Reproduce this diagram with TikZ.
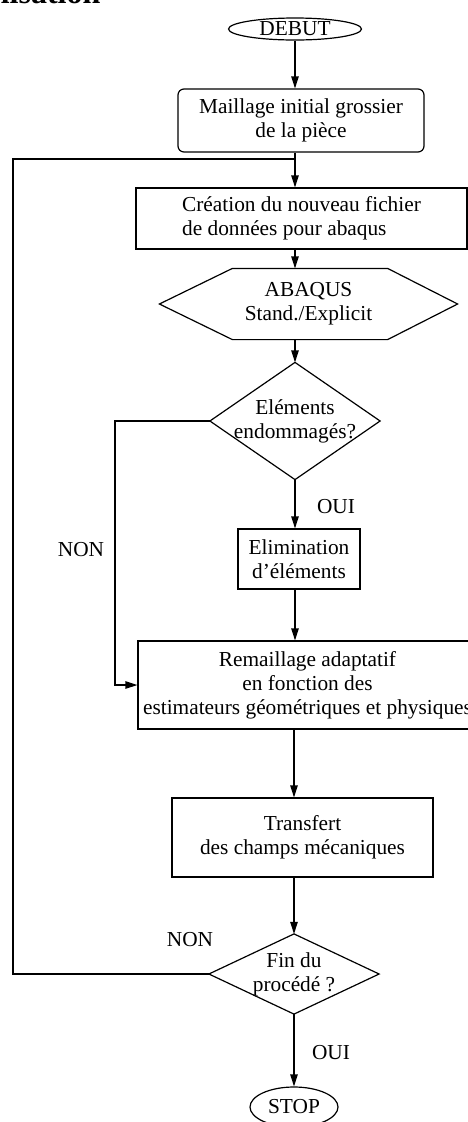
\documentclass[tikz,border=0pt]{standalone}
\usepackage{fontspec}
\setmainfont{Liberation Serif}
\usetikzlibrary{arrows.meta,shapes.geometric}
\newdimen\px
\px=0.75pt

\begin{document}
\begin{tikzpicture}[x=0.75pt,y=-0.75pt,line width=0.9pt,
  font=\fontsize{16}{18}\selectfont,
  every node/.style={inner sep=0pt},
  box/.style={draw,rectangle,align=center},
  oval/.style={draw,ellipse},
  flow/.style={-{Triangle[length=9pt,width=5.6pt]}}]
\useasboundingbox (0,0) rectangle (468,1122);
% fragment of the heading, cut by the page
\node[anchor=base east,font=\fontsize{24}{28}\selectfont\bfseries] (titre) at (101,3.5) {lisation};
% blocks
\node[oval,minimum width=133\px,minimum height=22\px] (debut) at (295,29) {DEBUT};
\node[box,rounded corners=6\px,minimum width=246\px,minimum height=63\px] (maillage) at (301,120.5) {Maillage initial grossier\\de la pièce};
\node[box,align=left,minimum width=331\px,minimum height=61\px] (creation) at (301.5,218.5) {Création du nouveau fichier\\de données pour abaqus};
\node[align=center,minimum width=297\px,minimum height=70\px] (abaqus) at (308.5,304) {ABAQUS\\Stand./Explicit};
\draw (abaqus.west) -- ([xshift=73\px]abaqus.north west) -- ([xshift=-70\px]abaqus.north east) -- (abaqus.east)
  -- ([xshift=-70\px]abaqus.south east) -- ([xshift=73\px]abaqus.south west) -- cycle;
\node[align=center,minimum width=169\px,minimum height=116\px] (elem) at (295,421) {Eléments\\endommagés?};
\draw (elem.north) -- (elem.east) -- (elem.south) -- (elem.west) -- cycle;
\node[box,minimum width=122\px,minimum height=60\px] (elim) at (299,559) {Elimination\\d’éléments};
\node[box,minimum width=339\px,minimum height=88\px] (remail) at (307.5,685) {Remaillage adaptatif\\en fonction des\\estimateurs géométriques et physiques};
\node[box,minimum width=261\px,minimum height=79\px] (transf) at (302.5,837.5) {Transfert\\des champs mécaniques};
\node[align=center,minimum width=169\px,minimum height=79\px] (fin) at (294,974) {Fin du\\procédé ?};
\draw (fin.north) -- (fin.east) -- (fin.south) -- (fin.west) -- cycle;
\node[oval,minimum width=88\px,minimum height=40\px] (stop) at (294,1107) {STOP};
% labels
\node (ouiA) at (336,507) {OUI};
\node (nonA) at (81,550) {NON};
\node (nonB) at (190,940) {NON};
\node (ouiB) at (331,1053) {OUI};
% connectors
\draw[flow] (debut.south) -- (debut.south |- maillage.north);
\draw[flow] (debut.south |- maillage.south) -- (debut.south |- creation.north);
\draw[flow] (elem.north |- creation.south) -- (elem.north |- abaqus.north);
\draw[flow] (elem.north |- abaqus.south) -- (elem.north);
\draw[flow] (elem.south) -- (elem.south |- elim.north);
\draw[flow] (elem.south |- elim.south) -- (elem.south |- remail.north);
\coordinate (nonbend) at (115,421);
\draw[flow] (elem.west) -- (nonbend) |- (remail.west);
\draw[flow] (fin.north |- remail.south) -- (fin.north |- transf.north);
\draw[flow] (fin.north |- transf.south) -- (fin.north);
\draw[flow] (fin.south) -- (stop.north);
\coordinate (loopleft) at (13,159);
\draw (fin.west) -| (loopleft) -- (loopleft -| debut.south);
\end{tikzpicture}
\end{document}
